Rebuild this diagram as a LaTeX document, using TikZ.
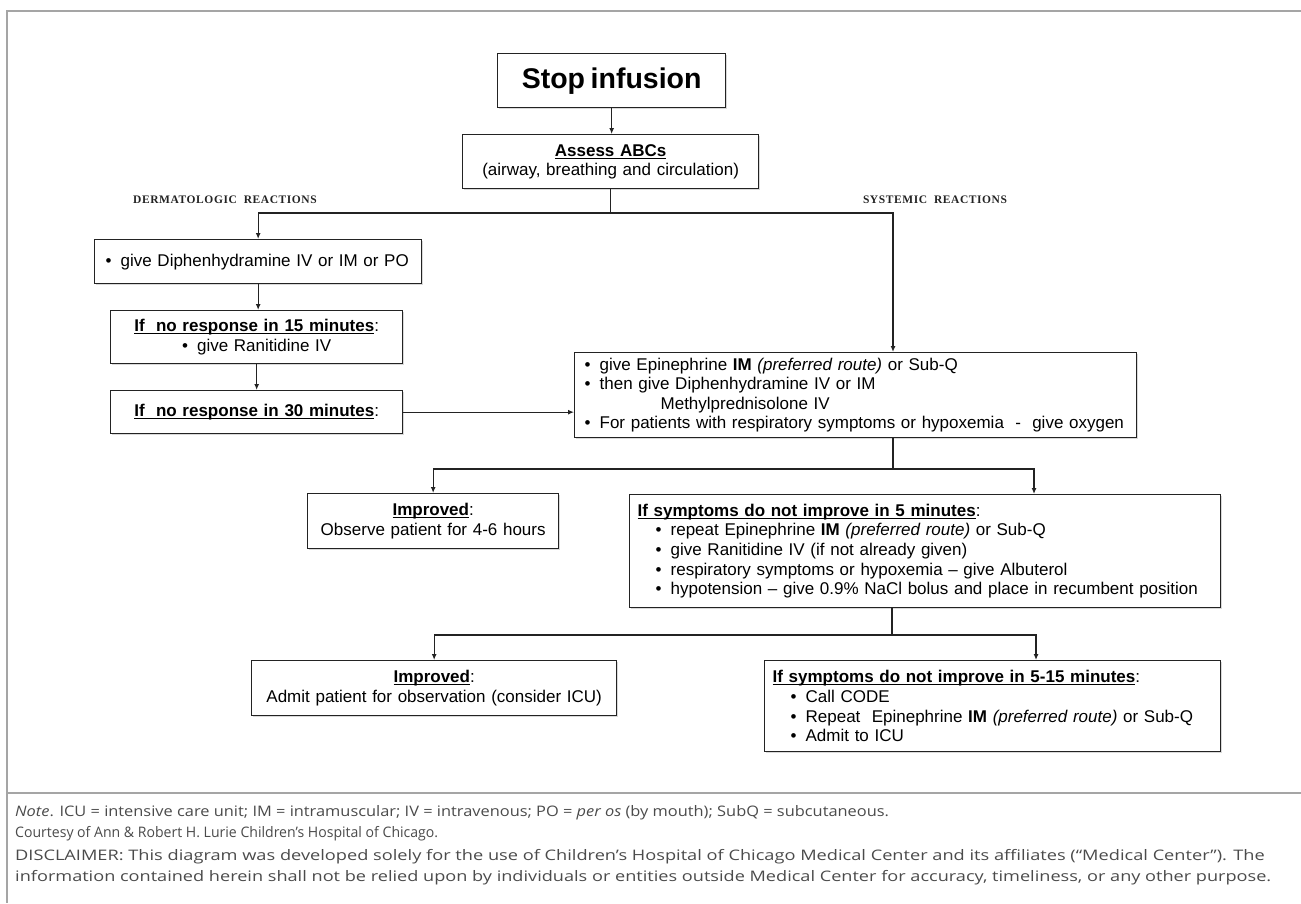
\documentclass[tikz,border=0pt]{standalone}
\usepackage{fontspec}
\usepackage{tikz}
\usetikzlibrary{arrows.meta,shadows}
\setmainfont{Liberation Sans}
\newfontfamily\reactfont[LetterSpace=5]{Liberation Serif}
\newfontfamily\notefont{Open Sans}
\definecolor{boxline}{RGB}{35, 35, 35}
\definecolor{framegray}{RGB}{165, 165, 165}
\definecolor{notegray}{RGB}{75, 75, 75}
\newsavebox{\hdbox}
\newcommand{\bul}{\makebox[15pt][l]{\textbullet}}
\newcommand{\hd}[1]{\sbox{\hdbox}{\textbf{#1}}\rlap{\rule[-2.4pt]{\wd\hdbox}{0.9pt}}\usebox{\hdbox}}

\begin{document}
\begin{tikzpicture}[x=1pt, y=-1pt, font=\fontsize{17}{19.6}\selectfont,
  flowbox/.style={draw=boxline, line width=1.3pt, fill=white, anchor=north west,
    inner xsep=8pt, inner ysep=0pt,
    drop shadow={shadow xshift=1.5pt, shadow yshift=-1.5pt, opacity=0.3}},
  wire/.style={draw=boxline, line width=1.3pt},
  link/.style={wire, -{Latex[length=6pt,width=5pt]}},
  react/.style={font=\reactfont\bfseries\fontsize{11.5}{12}\selectfont, text=boxline},
  footline/.style={anchor=west, inner sep=0pt, text=notegray,
    font=\notefont\fontsize{14.5}{17}\selectfont}]
\useasboundingbox (0,0) rectangle (1301,903);
\draw[framegray, line width=2pt] (1301,11) -- (7,11) -- (7,903);
\draw[framegray, line width=2pt] (7,793) -- (1301,793);

\node[flowbox, align=center, text width=212pt, minimum height=54pt] (stop) at (497,53)
  {\fontsize{28.5}{30}\selectfont\bfseries Stop infusion};
\node[flowbox, align=center, text width=280pt, minimum height=54pt] (abc) at (462,134)
  {\hd{Assess ABCs}\\(airway, breathing and circulation)};
\node[react] (dermlab) at (225,200) {DERMATOLOGIC\ \ REACTIONS};
\node[react] (syslab) at (935,200) {SYSTEMIC\ \ REACTIONS};

\node[flowbox, align=left, text width=311pt, minimum height=44pt] (diphen) at (94,239)
  {\hspace*{3pt}\bul give Diphenhydramine IV or IM or PO};
\node[flowbox, align=center, text width=276pt, minimum height=53pt] (ranit) at (110,310)
  {\hd{If\ \ no response in 15 minutes}:\\\bul give Ranitidine IV};
\node[flowbox, align=center, text width=276pt, minimum height=43pt] (noresp) at (110,390)
  {\hd{If\ \ no response in 30 minutes}:};
\node[flowbox, align=left, text width=546pt, minimum height=85pt] (epi) at (574,352)
  {\hspace*{2pt}\bul give Epinephrine \textbf{IM} \textit{(preferred route)} or Sub-Q\\
   \hspace*{2pt}\bul then give Diphenhydramine IV or IM\\
   \hspace*{78pt}Methylprednisolone IV\\
   \hspace*{2pt}\bul For patients with respiratory symptoms or hypoxemia\ \ -\ \ give oxygen};

\node[flowbox, align=center, text width=235pt, minimum height=55pt] (better) at (307,493)
  {\hd{Improved}:\\Observe patient for 4-6 hours};
\node[flowbox, align=left, text width=575pt, minimum height=113pt] (repeat) at (629,494)
  {\hd{If symptoms do not improve in 5 minutes}:\\
   \hspace*{18pt}\bul repeat Epinephrine \textbf{IM} \textit{(preferred route)} or Sub-Q\\
   \hspace*{18pt}\bul give Ranitidine IV (if not already given)\\
   \hspace*{18pt}\bul respiratory symptoms or hypoxemia -- give Albuterol\\
   \hspace*{18pt}\bul hypotension -- give 0.9\% NaCl bolus and place in recumbent position};

\node[flowbox, align=center, text width=349pt, minimum height=55pt] (admit) at (251,660)
  {\hd{Improved}:\\Admit patient for observation (consider ICU)};
\node[flowbox, align=left, text width=440pt, minimum height=91pt] (code) at (764,660)
  {\hd{If symptoms do not improve in 5-15 minutes}:\\
   \hspace*{18pt}\bul Call CODE\\
   \hspace*{18pt}\bul Repeat\ \ Epinephrine \textbf{IM} \textit{(preferred route)} or Sub-Q\\
   \hspace*{18pt}\bul Admit to ICU};

\coordinate (split) at (610,213);
\coordinate (sysdrop) at (893,213);
\coordinate (epidrop) at (893,469);
\coordinate (epiright) at (1034,469);
\coordinate (repdrop) at (892,635);
\coordinate (repright) at (1036,635);

\draw[link] (stop.south) -- (stop.south |- abc.north);
\draw[wire] (abc.south) -- (abc.south |- split);
\draw[link] (abc.south |- split) -| (diphen.north);
\draw[link] (abc.south |- split) -- (sysdrop) -- (sysdrop |- epi.north);
\draw[link] (diphen.south) -- (diphen.south |- ranit.north);
\draw[link] (ranit.south) -- (ranit.south |- noresp.north);
\draw[link] (noresp.east) -- (noresp.east -| epi.west);
\draw[wire] (epidrop |- epi.south) -- (epidrop);
\draw[link] (epidrop) -| (better.north);
\draw[link] (epidrop) -- (epiright) -- (epiright |- repeat.north);
\draw[wire] (repdrop |- repeat.south) -- (repdrop);
\draw[link] (repdrop) -| (admit.north);
\draw[link] (repdrop) -- (repright) -- (repright |- code.north);

\node[footline] (note) at (15,813) {\scalebox{1.13}[1]{\textit{Note}. ICU = intensive care unit; IM = intramuscular; IV = intravenous; PO = \textit{per os} (by mouth); SubQ = subcutaneous.}};
\node[footline] (courtesy) at (15,834) {\scalebox{0.97}[1]{Courtesy of Ann \& Robert H. Lurie Children’s Hospital of Chicago.}};
\node[footline] (disc1) at (15,857) {\scalebox{1.255}[1]{DISCLAIMER: This diagram was developed solely for the use of Children’s Hospital of Chicago Medical Center and its affiliates (“Medical Center”). The}};
\node[footline] (disc2) at (15,878) {\scalebox{1.25}[1]{information contained herein shall not be relied upon by individuals or entities outside Medical Center for accuracy, timeliness, or any other purpose.}};
\end{tikzpicture}
\end{document}
